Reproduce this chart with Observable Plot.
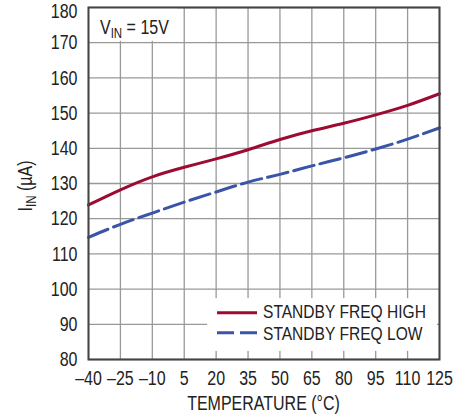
<!DOCTYPE html>
<html>
<head>
<meta charset="utf-8">
<script src="https://cdn.jsdelivr.net/npm/d3@7"></script>
<script src="https://cdn.jsdelivr.net/npm/@observablehq/plot@0.6"></script>
<style>
  html, body { margin: 0; padding: 0; background: #fff; }
  #chart svg { display: block; }
</style>
</head>
<body>
<div id="chart"></div>
<script>
const temps = [-40, -25, -10, 5, 20, 35, 50, 65, 80, 95, 110, 125];
const xTickLabels = ["–40", "–25", "–10", "5", "20", "35", "50", "65", "80", "95", "110", "125"];
const yTicks = [80, 90, 100, 110, 120, 130, 140, 150, 160, 170, 180];
const standbyHigh = [123.9, 128.2, 131.9, 134.6, 137.0, 139.6, 142.5, 145.0, 147.1, 149.5, 152.2, 155.5];
const standbyLow = [114.7, 118.4, 121.6, 124.7, 127.6, 130.4, 132.6, 135.0, 137.3, 139.8, 142.6, 145.8];
const seriesNames = ["STANDBY FREQ HIGH", "STANDBY FREQ LOW"];
const seriesColors = ["#9c0b30", "#3a55a8"];

const FONT = "'Liberation Sans', Arial, sans-serif";
const SQUEEZE = 0.82;

const highData = temps.map((t, i) => ({t, v: standbyHigh[i]}));
const lowData = temps.map((t, i) => ({t, v: standbyLow[i]}));

const chart = Plot.plot({
  width: 469,
  height: 417,
  marginLeft: 88,
  marginRight: 30,
  marginTop: 7,
  marginBottom: 58,
  style: {fontFamily: FONT, fontSize: "19.5px", color: "#222", background: "#fff"},
  x: {domain: [-40, 125], ticks: temps, label: null},
  y: {domain: [80, 180], ticks: yTicks, label: null},
  marks: [
    Plot.gridX(temps, {stroke: "#999", strokeOpacity: 1, strokeWidth: 1.3}),
    Plot.gridY(yTicks, {stroke: "#999", strokeOpacity: 1, strokeWidth: 1.3}),
    Plot.rect([{x1: -40, x2: 2, y1: 170.4, y2: 180}], {x1: "x1", x2: "x2", y1: "y1", y2: "y2", fill: "white"}),
    Plot.rect([{x1: 16, x2: 124, y1: 82.3, y2: 97.3}], {x1: "x1", x2: "x2", y1: "y1", y2: "y2", fill: "white"}),
    Plot.line(lowData, {x: "t", y: "v", stroke: seriesColors[1], strokeWidth: 3, strokeDasharray: "21,6", curve: "natural"}),
    Plot.line(highData, {x: "t", y: "v", stroke: seriesColors[0], strokeWidth: 3, curve: "natural"}),
    Plot.frame({stroke: "#444", strokeWidth: 2}),
    Plot.axisX(temps, {tickSize: 0, tickPadding: 12, tickFormat: (d, i) => xTickLabels[i], fill: "#222"}),
    Plot.axisY(yTicks, {tickSize: 0, tickPadding: 11, fill: "#222", dy: 0.5})
  ]
});

document.getElementById("chart").appendChild(chart);

const svg = d3.select(chart);
const ink = "#222";

function addText(tx, ty, anchor, size, rotate) {
  return svg.append("text")
    .attr("data-pos", `translate(${tx},${ty})` + (rotate ? ` rotate(${rotate})` : ""))
    .attr("text-anchor", anchor)
    .attr("font-family", FONT).attr("font-size", size).attr("fill", ink);
}

// Y title
const yt = addText(32, 186, "middle", 19.5, -90);
yt.append("tspan").text("I");
yt.append("tspan").attr("font-size", 14).attr("dy", 4).text("IN");
yt.append("tspan").attr("dy", -4).text(" (µA)");

// X title
addText(263.5, 410, "middle", 19.5).text("TEMPERATURE (°C)");

// V_IN annotation
const va = addText(100, 33.5, "start", 19.5);
va.append("tspan").text("V");
va.append("tspan").attr("font-size", 14).attr("dy", 4).text("IN");
va.append("tspan").attr("dy", -4).text(" = 15V");

// Legend
const legY = [312.7, 332.7];
const legDash = [null, "17,6"];
seriesNames.forEach((name, i) => {
  const l = svg.append("line")
    .attr("x1", 217).attr("x2", 257)
    .attr("y1", legY[i]).attr("y2", legY[i])
    .attr("stroke", seriesColors[i]).attr("stroke-width", 3);
  if (legDash[i]) l.attr("stroke-dasharray", legDash[i]);
  addText(263, legY[i] + 5 + i * 2, "start", 19).text(name);
});

// condense all text horizontally (narrow typeface look); y is unaffected by scaleX
svg.selectAll("text").each(function () {
  const el = d3.select(this);
  let t = el.attr("transform") || "";
  const pos = el.attr("data-pos");
  if (pos) {
    t += " " + pos;
  } else {
    const xa = el.attr("x");
    if (xa != null && /^-?[\d.]+$/.test(xa.trim())) {
      t += ` translate(${+xa},0)`;
      el.attr("x", null);
    }
    // top y tick label sits a little lower in the reference so it stays inside the picture
    if (el.text() === "180") t += " translate(0,4)";
  }
  el.attr("transform", (t + ` scale(${SQUEEZE},1)`).trim());
});
</script>
</body>
</html>
